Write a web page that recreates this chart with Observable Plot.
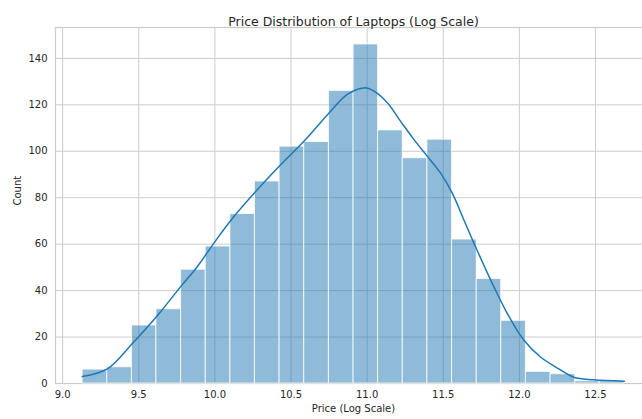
<!DOCTYPE html>
<html>
<head>
<meta charset="utf-8">
<script src="https://cdn.jsdelivr.net/npm/d3@7"></script>
<script src="https://cdn.jsdelivr.net/npm/@observablehq/plot@0.6"></script>
<style>
  html, body { margin: 0; padding: 0; background: #fff; overflow: hidden; }
  #chart { width: 642px; height: 419px; overflow: hidden; }
  #chart svg { max-width: none !important; }
</style>
</head>
<body>
<div id="chart"></div>
<script>
// Histogram bin edges (log price) and counts
const binEdges = [9.131, 9.293, 9.455, 9.616, 9.778, 9.940, 10.102, 10.263, 10.425, 10.587, 10.749,
  10.911, 11.072, 11.234, 11.396, 11.558, 11.720, 11.881, 12.043, 12.205, 12.367, 12.528, 12.690];
const counts = [6, 7, 25, 32, 49, 59, 73, 87, 102, 104, 126, 146, 109, 97, 105, 62, 45, 27, 5, 4, 1, 1];

// KDE curve (scaled to counts)
const kdeX = [9.129, 9.294, 9.458, 9.557, 9.642, 9.774, 9.884, 10.016, 10.125, 10.268, 10.432, 10.585,
  10.750, 10.870, 10.980, 11.045, 11.133, 11.220, 11.308, 11.396, 11.483, 11.560, 11.636, 11.702,
  11.812, 11.921, 12.030, 12.139, 12.259, 12.357, 12.489, 12.690];
const kdeY = [3.0, 6.3, 17.2, 24.3, 30.8, 41.6, 50.3, 62.5, 71.9, 82.7, 94.2, 104.3,
  116.5, 124.5, 127.3, 125.9, 120.9, 112.9, 105.0, 97.8, 90.6, 81.9, 70.4, 60.4,
  44.5, 30.1, 18.6, 11.4, 6.3, 2.7, 1.6, 1.0];

const xTicks = [9.0, 9.5, 10.0, 10.5, 11.0, 11.5, 12.0, 12.5];
const yTicks = [0, 20, 40, 60, 80, 100, 120, 140];

const title = "Price Distribution of Laptops (Log Scale)";
const xLabel = "Price (Log Scale)";
const yLabel = "Count";

const bins = counts.map((c, i) => ({x1: binEdges[i], x2: binEdges[i + 1], y: c}));
const kde = kdeX.map((x, i) => ({x, y: kdeY[i]}));

const textColor = "#262626";
const gridColor = "#cccccc";

const chart = Plot.plot({
  width: 652,
  height: 419,
  marginLeft: 55,
  marginRight: 1,
  marginTop: 27,
  marginBottom: 36,
  style: {fontFamily: "DejaVu Sans", fontSize: "10px", color: textColor, background: "#fff", maxWidth: "none"},
  x: {domain: [8.953, 12.868]},
  y: {domain: [0, 153.3]},
  marks: [
    Plot.gridX(xTicks, {stroke: gridColor, strokeOpacity: 1, strokeWidth: 1}),
    Plot.gridY(yTicks, {stroke: gridColor, strokeOpacity: 1, strokeWidth: 1}),
    Plot.frame({stroke: gridColor, strokeWidth: 1.25}),
    Plot.rectY(bins, {x1: "x1", x2: "x2", y: "y", fill: "#1f77b4", fillOpacity: 0.5,
      stroke: "#ffffff", strokeWidth: 1, strokeOpacity: 0.8, insetLeft: 0, insetRight: 0}),
    Plot.line(kde, {x: "x", y: "y", stroke: "#1f77b4", strokeWidth: 1.5, curve: "catmull-rom"}),
    Plot.axisX(xTicks, {tickSize: 0, tickPadding: 7, tickFormat: d => d.toFixed(1),
      fill: textColor, fontSize: 10, label: null}),
    Plot.axisY(yTicks, {tickSize: 0, tickPadding: 8, fill: textColor, fontSize: 10, label: null}),
    Plot.text([title], {frameAnchor: "top", dy: -10, fontSize: 12.5, fill: textColor}),
    Plot.text([xLabel], {frameAnchor: "bottom", dy: 28.5, fontSize: 10, fill: textColor}),
    Plot.text([yLabel], {frameAnchor: "left", dx: -38, rotate: -90, fontSize: 10, fill: textColor})
  ]
});
document.getElementById("chart").appendChild(chart);
</script>
</body>
</html>
